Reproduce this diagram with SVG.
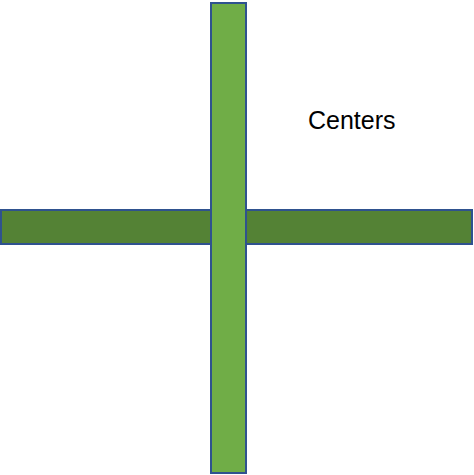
<svg xmlns="http://www.w3.org/2000/svg" width="474" height="475" viewBox="0 0 474 475">
<style>
.bar{stroke:#2F528F;stroke-width:2}
.lbl{font-family:"Liberation Sans",Arial,sans-serif;font-size:25px;fill:#000}
</style>
<rect width="474" height="475" fill="#fff"/>
<g id="horizontal-bar"><rect class="bar" x="1" y="210" width="471" height="34" fill="#548235"/></g>
<g id="vertical-bar"><rect class="bar" x="211" y="3" width="35" height="470" fill="#70AD47"/></g>
<g id="label"><text class="lbl" x="308" y="129">Centers</text></g>
</svg>
